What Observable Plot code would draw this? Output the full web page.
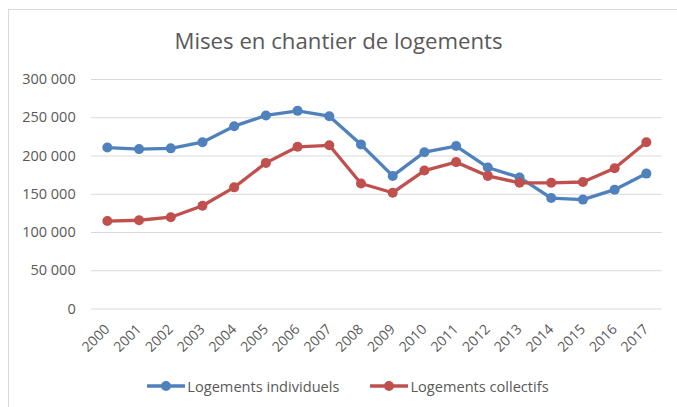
<!DOCTYPE html>
<html>
<head>
<meta charset="utf-8">
<script src="https://cdn.jsdelivr.net/npm/d3@7"></script>
<script src="https://cdn.jsdelivr.net/npm/@observablehq/plot@0.6"></script>
<style>
  body { margin: 0; background: #fff; }
  #wrap { position: relative; width: 677px; height: 407px; overflow: hidden; font-family: "Open Sans", sans-serif; color: #595959; }
  #border { position: absolute; left: 8px; top: 9px; width: 700px; height: 420px; border: 1px solid #d9d9d9; box-sizing: border-box; }
  #title { position: absolute; left: 0; width: 677px; top: 29.6px; line-height: 22px; text-align: center; font-size: 22.2px; color: #595959; white-space: nowrap; }
  #chart { position: absolute; left: 0; top: 0; }
  #legend { position: absolute; top: 376px; left: 18px; width: 659px; display: flex; justify-content: center; gap: 30px; font-size: 14.6px; line-height: 20px; }
  .item { display: flex; align-items: center; gap: 1px; }
  .item svg { display: block; }
</style>
</head>
<body>
<div id="wrap">
  <div id="border"></div>
  <div id="chart"></div>
  <div id="title">Mises en chantier de logements</div>
  <div id="legend"></div>
</div>
<script>
const years = ["2000","2001","2002","2003","2004","2005","2006","2007","2008","2009","2010","2011","2012","2013","2014","2015","2016","2017"];
const individuels = [211000, 209000, 210000, 218000, 239000, 253000, 259000, 252000, 215000, 174000, 205000, 213000, 185000, 172000, 145000, 143000, 156000, 177000];
const collectifs = [115000, 116000, 120000, 135000, 159000, 191000, 212000, 214000, 164000, 152000, 181000, 192000, 174000, 165000, 165000, 166000, 184000, 218000];
const seriesNames = ["Logements individuels", "Logements collectifs"];
const seriesColors = ["#4f81bd", "#c0504d"];
const yTicks = [0, 50000, 100000, 150000, 200000, 250000, 300000];

const data = [];
years.forEach((y, i) => {
  data.push({year: y, value: individuels[i], series: seriesNames[0]});
  data.push({year: y, value: collectifs[i], series: seriesNames[1]});
});

const fr = d3.formatLocale({decimal: ",", thousands: " ", grouping: [3], currency: ["", ""]});
const fmt = fr.format(",");

const plot = Plot.plot({
  width: 677,
  height: 407,
  marginTop: 79,
  marginBottom: 98.5,
  marginLeft: 91,
  marginRight: 15.3,
  style: {fontFamily: "'Open Sans', sans-serif", color: "#595959", background: "transparent"},
  x: {type: "point", domain: years, padding: 0.5, round: false},
  y: {domain: [0, 300000]},
  color: {domain: seriesNames, range: seriesColors},
  marks: [
    Plot.ruleY(yTicks, {stroke: "#d9d9d9", strokeWidth: 1.2}),
    Plot.axisY({ticks: yTicks, tickFormat: fmt, tickSize: 0, tickPadding: 15.8, label: null, fill: "#595959", fontSize: 14.5}),
    Plot.axisX({tickSize: 0, tickPadding: 12, dy: 6, tickRotate: -45, label: null, fill: "#595959", fontSize: 14}),
    Plot.line(data, {x: "year", y: "value", z: "series", stroke: "series", strokeWidth: 3.3}),
    Plot.dot(data, {x: "year", y: "value", fill: "series", r: 5})
  ]
});
document.getElementById("chart").appendChild(plot);

const legend = document.getElementById("legend");
seriesNames.forEach((name, i) => {
  const item = document.createElement("div");
  item.className = "item";
  item.innerHTML = `<svg width="40" height="12"><line x1="1" x2="39" y1="6" y2="6" stroke="${seriesColors[i]}" stroke-width="3.3"/><circle cx="20" cy="6" r="5" fill="${seriesColors[i]}"/></svg><span>${name}</span>`;
  legend.appendChild(item);
});
</script>
</body>
</html>
